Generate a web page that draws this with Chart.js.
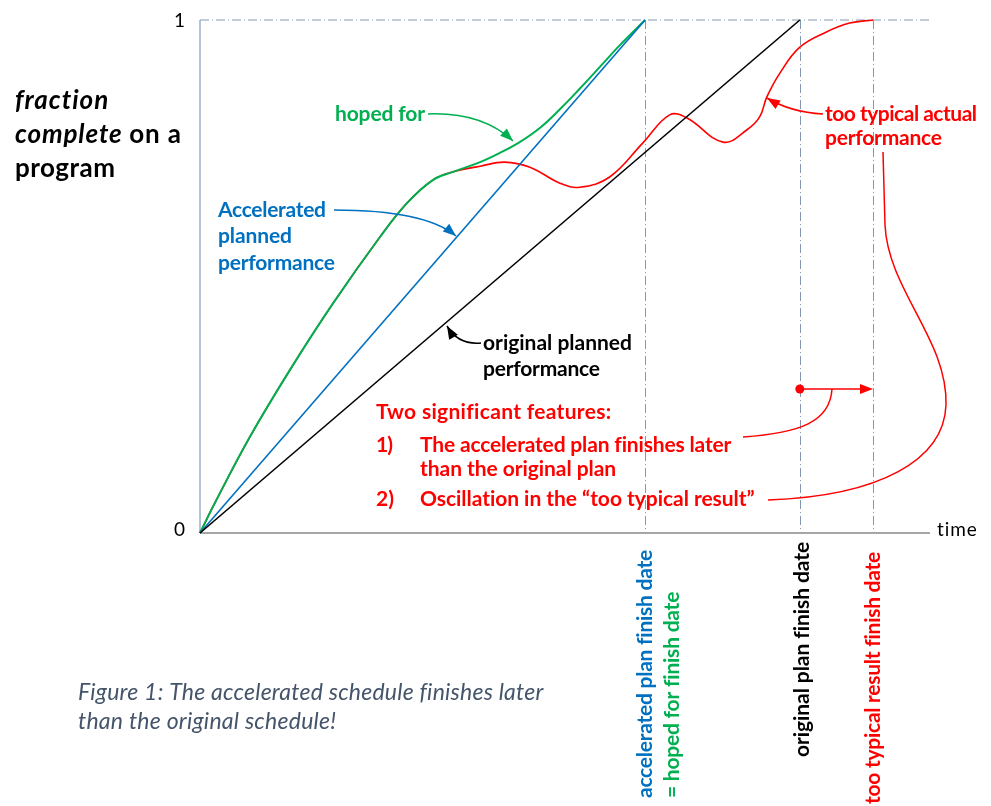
<!DOCTYPE html>
<html>
<head>
<meta charset="utf-8">
<script src="https://cdn.jsdelivr.net/npm/chart.js@4.4.1/dist/chart.umd.min.js"></script>
<style>
  body { margin: 0; background: #fff; }
  #wrap { width: 991px; height: 806px; }
</style>
</head>
<body>
<div id="wrap"><canvas id="chart" width="991" height="806"></canvas></div>
<script>
// time in units of the original plan duration, fraction complete 0..1
const originalX = [0, 1];
const originalY = [0, 1];
const acceleratedX = [0, 0.742];
const acceleratedY = [0, 1];
const hopedX = [0, 0.025, 0.083, 0.15, 0.222, 0.3, 0.345, 0.388, 0.422, 0.467, 0.5, 0.533, 0.567, 0.6, 0.633, 0.667, 0.7, 0.742];
const hopedY = [0, 0.059, 0.187, 0.318, 0.448, 0.577, 0.643, 0.688, 0.704, 0.723, 0.741, 0.762, 0.79, 0.826, 0.866, 0.909, 0.951, 1];
const actualX = [0, 0.025, 0.083, 0.15, 0.222, 0.3, 0.345, 0.388, 0.422, 0.467, 0.508, 0.55, 0.6, 0.633, 0.683, 0.738,
  0.783, 0.812, 0.872, 0.912, 0.933, 0.945, 0.967, 1.0, 1.045, 1.083, 1.122];
const actualY = [0, 0.059, 0.187, 0.318, 0.448, 0.577, 0.643, 0.688, 0.704, 0.715, 0.723, 0.713, 0.682, 0.674, 0.694, 0.76,
  0.815, 0.809, 0.762, 0.786, 0.811, 0.85, 0.897, 0.947, 0.977, 0.994, 1];
const finishDates = [0.742, 1.0, 1.122];
const yTicks = ["0", "1"];
const xMax = 1.217;

const toPoints = (xs, ys) => xs.map((x, i) => ({ x: x, y: ys[i] }));

const font = (size, weight, style) =>
  `${style || "normal"} ${weight || "bold"} ${size}px Lato, "Open Sans", sans-serif`;

const arrowHead = (ctx, fromX, fromY, toX, toY, color) => {
  const ang = Math.atan2(toY - fromY, toX - fromX);
  const len = 13, half = 5;
  ctx.save();
  ctx.fillStyle = color;
  ctx.beginPath();
  ctx.moveTo(toX, toY);
  ctx.lineTo(toX - len * Math.cos(ang) + half * Math.sin(ang), toY - len * Math.sin(ang) - half * Math.cos(ang));
  ctx.lineTo(toX - len * Math.cos(ang) - half * Math.sin(ang), toY - len * Math.sin(ang) + half * Math.cos(ang));
  ctx.closePath();
  ctx.fill();
  ctx.restore();
};

const curvedArrow = (ctx, sx, sy, cx, cy, ex, ey, color) => {
  ctx.save();
  ctx.strokeStyle = color;
  ctx.lineWidth = 1.5;
  ctx.beginPath();
  ctx.moveTo(sx, sy);
  ctx.quadraticCurveTo(cx, cy, ex, ey);
  ctx.stroke();
  ctx.restore();
  arrowHead(ctx, cx, cy, ex, ey, color);
};

// draws text so it spans about `width` px, like the Calibri original
const text = (ctx, str, x, y, color, f, width, align) => {
  ctx.fillStyle = color;
  ctx.font = f;
  ctx.letterSpacing = "0px";
  ctx.textAlign = "left";
  ctx.textBaseline = "middle";
  let start = x;
  if (width) {
    const w = ctx.measureText(str).width;
    const ls = (width - w) / Math.max(str.length - 1, 1);
    ctx.letterSpacing = ls.toFixed(2) + "px";
    if (align === "right") start = x - width;
  } else if (align === "right") {
    start = x - ctx.measureText(str).width;
  }
  ctx.fillText(str, start, y);
  ctx.letterSpacing = "0px";
};

const vText = (ctx, str, x, y, color, f, width, align) => {
  ctx.save();
  ctx.translate(x, y);
  ctx.rotate(-Math.PI / 2);
  text(ctx, str, 0, 0, color, f, width, align);
  ctx.restore();
};

const decorations = {
  id: "decorations",
  beforeDraw(chart) {
    const ctx = chart.ctx;
    const xs = chart.scales.x, ys = chart.scales.y;
    const x0 = xs.getPixelForValue(0), xEnd = xs.getPixelForValue(xMax);
    const y0 = ys.getPixelForValue(0), y1 = ys.getPixelForValue(1);
    ctx.save();
    ctx.fillStyle = "#fff";
    ctx.fillRect(0, 0, chart.width, chart.height);

    // reference lines
    ctx.strokeStyle = "#8497b0";
    ctx.lineWidth = 1;
    ctx.setLineDash([9, 3, 1, 3]);
    ctx.beginPath();
    ctx.moveTo(x0, y1);
    ctx.lineTo(xEnd, y1);
    finishDates.forEach((d) => {
      const px = Math.round(xs.getPixelForValue(d)) + 0.5;
      ctx.moveTo(px, y1);
      ctx.lineTo(px, y0);
    });
    ctx.stroke();
    ctx.setLineDash([]);

    // axes
    ctx.strokeStyle = "#7f9dc0";
    ctx.lineWidth = 1.2;
    ctx.beginPath();
    ctx.moveTo(x0, y1);
    ctx.lineTo(x0, y0);
    ctx.stroke();
    ctx.strokeStyle = "#a6a6a6";
    ctx.lineWidth = 1.8;
    ctx.beginPath();
    ctx.moveTo(x0, y0);
    ctx.lineTo(xEnd, y0);
    ctx.stroke();

    text(ctx, yTicks[1], x0 - 15, y1 + 1, "#000", font(19, "normal"), 0, "right");
    text(ctx, yTicks[0], x0 - 15, y0 - 3, "#000", font(19, "normal"), 0, "right");
    text(ctx, "time", xEnd + 7, y0 - 3, "#000", font(19, "normal"), 40);
    ctx.restore();
  },
  afterDatasetsDraw(chart) {
    const ctx = chart.ctx;
    const red = "#ff0000", green = "#00b050", blue = "#0070c0";
    const f = font(21);
    ctx.save();

    // y title
    ctx.fillStyle = "#000";
    ctx.textBaseline = "middle";
    ctx.textAlign = "left";
    text(ctx, "fraction", 15, 101, "#000", font(26, "bold", "italic"), 93);
    ctx.font = font(26, "bold", "italic");
    const wc = ctx.measureText("complete ").width;
    ctx.font = font(26, "bold");
    const wo = ctx.measureText("on a").width;
    const ls = (166 - wc - wo) / 12;
    ctx.letterSpacing = ls.toFixed(2) + "px";
    ctx.font = font(26, "bold", "italic");
    ctx.fillText("complete ", 15, 135);
    const wc2 = ctx.measureText("complete ").width;
    ctx.font = font(26, "bold");
    ctx.fillText("on a", 15 + wc2, 135);
    ctx.letterSpacing = "0px";
    text(ctx, "program", 15, 169, "#000", font(26, "bold"), 100);

    // hoped for
    text(ctx, "hoped for", 335, 114, green, f, 90);
    curvedArrow(ctx, 428, 114, 482, 112, 513, 141, green);

    // accelerated plan
    text(ctx, "Accelerated", 218, 210, blue, f, 108);
    text(ctx, "planned", 218, 236, blue, f, 74);
    text(ctx, "performance", 218, 263, blue, f, 117);
    curvedArrow(ctx, 334, 210, 425, 210, 456, 236, blue);

    // original plan
    text(ctx, "original planned", 483, 343, "#000", f, 149);
    text(ctx, "performance", 483, 369, "#000", f, 117);
    curvedArrow(ctx, 481, 343, 458, 345, 447, 326, "#000");

    // actual
    text(ctx, "too typical actual", 825, 114, red, f, 152);
    text(ctx, "performance", 825, 138, red, f, 117);
    curvedArrow(ctx, 823, 114, 790, 112, 767, 98, red);

    // features
    text(ctx, "Two significant features:", 376, 412, red, f, 235);
    text(ctx, "1)", 376, 445, red, f, 17);
    text(ctx, "The accelerated plan finishes later", 420, 445, red, f, 311);
    text(ctx, "than the original plan", 420, 469, red, f, 196);
    text(ctx, "2)", 376, 499, red, f, 18);
    text(ctx, "Oscillation in the \u201Ctoo typical result\u201D", 420, 499, red, f, 335);

    // delay marker
    const xs = chart.scales.x;
    const dx0 = xs.getPixelForValue(finishDates[1]), dx1 = xs.getPixelForValue(finishDates[2]);
    const dy = 389;
    ctx.fillStyle = red;
    ctx.beginPath();
    ctx.arc(dx0, dy, 4.5, 0, Math.PI * 2);
    ctx.fill();
    ctx.strokeStyle = red;
    ctx.lineWidth = 1.5;
    ctx.beginPath();
    ctx.moveTo(dx0, dy);
    ctx.lineTo(dx1 - 10, dy);
    ctx.stroke();
    arrowHead(ctx, dx0, dy, dx1, dy, red);

    // leader lines
    ctx.beginPath();
    ctx.moveTo(743, 437);
    ctx.bezierCurveTo(800, 433, 830, 422, 832, 389);
    ctx.stroke();
    ctx.beginPath();
    ctx.moveTo(768, 500);
    ctx.bezierCurveTo(880, 496, 944, 460, 946, 405);
    ctx.bezierCurveTo(948, 340, 888, 290, 885, 225);
    ctx.lineTo(883, 152);
    ctx.stroke();

    // finish date labels
    vText(ctx, "accelerated plan finish date", xs.getPixelForValue(finishDates[0]), 798, blue, f, 248);
    vText(ctx, "= hoped for finish date", xs.getPixelForValue(finishDates[0]) + 27, 798, green, f, 206);
    vText(ctx, "original plan finish date", xs.getPixelForValue(finishDates[1]) + 2, 542, "#000", f, 215, "right");
    vText(ctx, "too typical result finish date", xs.getPixelForValue(finishDates[2]), 552, red, f, 252, "right");

    // caption
    text(ctx, "Figure 1: The accelerated schedule finishes later", 78, 693, "#44546a", font(23, "normal", "italic"), 465);
    text(ctx, "than the original schedule!", 78, 722, "#44546a", font(23, "normal", "italic"), 258);
    ctx.restore();
  },
};

const lineDataset = (label, xs, ys, color, width, smooth) => ({
  label: label,
  data: toPoints(xs, ys),
  borderColor: color,
  borderWidth: width,
  pointRadius: 0,
  fill: false,
  clip: false,
  tension: smooth ? 0.4 : 0,
});

new Chart(document.getElementById("chart"), {
  type: "line",
  data: {
    datasets: [
      lineDataset("original planned performance", originalX, originalY, "#000000", 1.6, false),
      lineDataset("Accelerated planned performance", acceleratedX, acceleratedY, "#0070c0", 1.6, false),
      lineDataset("hoped for", hopedX, hopedY, "#00b050", 2, true),
      lineDataset("too typical actual performance", actualX, actualY, "#ff0000", 1.6, true),
    ],
  },
  options: {
    responsive: false,
    animation: false,
    layout: { padding: { left: 200, right: 61, top: 20, bottom: 273 } },
    scales: {
      x: { type: "linear", min: 0, max: xMax, display: false },
      y: { type: "linear", min: 0, max: 1, display: false },
    },
    plugins: { legend: { display: false }, tooltip: { enabled: false } },
  },
  plugins: [decorations],
});
</script>
</body>
</html>
